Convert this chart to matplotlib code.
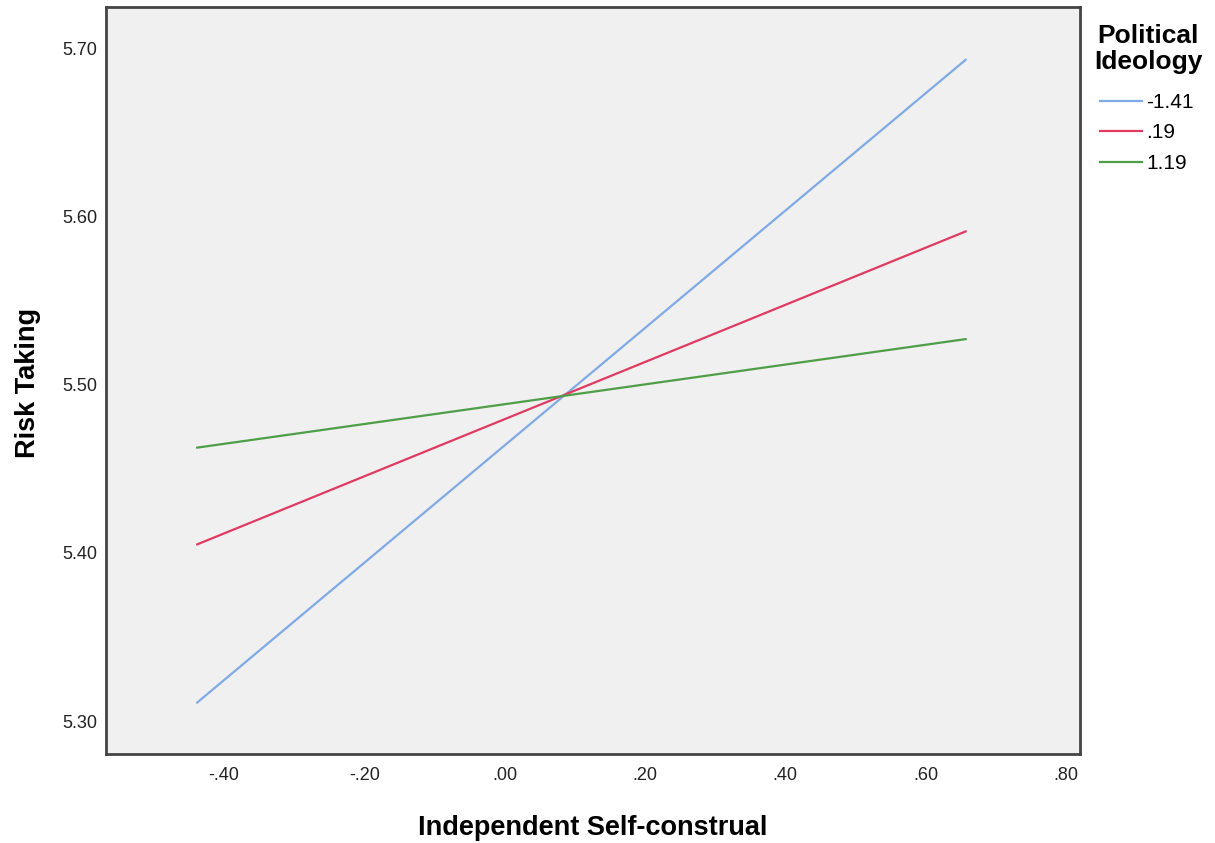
import matplotlib.pyplot as plt
from matplotlib.ticker import FuncFormatter

plt.rcParams['font.family'] = ['Liberation Sans', 'DejaVu Sans']

# simple slopes: x at -1 SD and +1 SD of self-construal
x_ends = [-0.438, 0.657]
groups = ["-1.41", ".19", "1.19"]
risk_low = [5.311, 5.405, 5.4625]
risk_high = [5.693, 5.591, 5.527]
colors = ["#7faae6", "#e03a61", "#4e9e47"]

x_ticks = [-0.4, -0.2, 0.0, 0.2, 0.4, 0.6, 0.8]
y_ticks = [5.3, 5.4, 5.5, 5.6, 5.7]


def spss_fmt(v, pos):
    s = "%.2f" % v
    if s.startswith("0."):
        s = s[1:]
    elif s.startswith("-0."):
        s = "-" + s[2:]
    return s


fig = plt.figure(figsize=(12.15, 8.43), dpi=100)
ax = fig.add_axes([106 / 1215, 89 / 843, 974 / 1215, 747 / 843])
ax.set_facecolor("#f0f0f0")

for g, lo, hi, c in zip(groups, risk_low, risk_high, colors):
    ax.plot(x_ends, [lo, hi], color=c, lw=1.6, label=g)

ax.set_xlim(-0.568, 0.820)
ax.set_ylim(5.2804, 5.7244)
ax.set_xticks(x_ticks)
ax.set_yticks(y_ticks)
ax.xaxis.set_major_formatter(FuncFormatter(spss_fmt))
ax.yaxis.set_major_formatter(FuncFormatter(spss_fmt))
ax.tick_params(length=0, labelsize=13, colors="#222222")
ax.tick_params(axis="x", pad=9)
ax.tick_params(axis="y", pad=6)

for s in ax.spines.values():
    s.set_color("#444444")
    s.set_linewidth(2)

ax.set_xlabel("Independent Self-construal", fontsize=19.5, fontweight="bold", va="center")
ax.xaxis.set_label_coords(0.5, -0.099)
ax.set_ylabel("Risk Taking", fontsize=19.5, fontweight="bold", va="center", ha="center")
ax.yaxis.set_label_coords(-0.08, 0.497)

fig.text(1148 / 1215, 1 - 49 / 843, "Political\nIdeology", fontsize=19, fontweight="bold",
         ha="center", va="center", multialignment="center", linespacing=1.15)

ax.legend(loc="upper left", bbox_to_anchor=(1.021, 0.885),
          frameon=False, fontsize=15, handlelength=2.0, handletextpad=0.2,
          labelspacing=0.55, borderaxespad=0, borderpad=0)

fig.savefig("out.png", dpi=100)
